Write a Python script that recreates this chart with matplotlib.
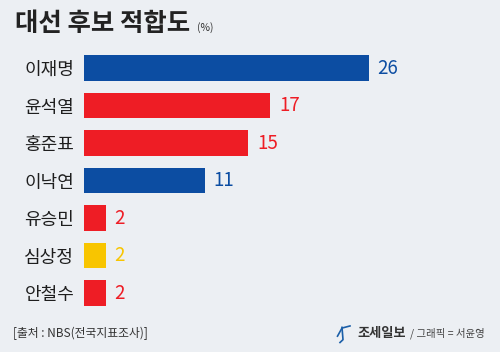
import matplotlib.pyplot as plt
from matplotlib.lines import Line2D

plt.rcParams['font.family'] = ['Noto Sans CJK KR', 'DejaVu Sans']

names = ['이재명', '윤석열', '홍준표', '이낙연', '유승민', '심상정', '안철수']
values = [26, 17, 15, 11, 2, 2, 2]
colors = ['#0c4da2', '#ee1d25', '#ee1d25', '#0c4da2', '#ee1d25', '#f8c500', '#ee1d25']

bg = '#eceff3'
fig = plt.figure(figsize=(5, 3.52), dpi=100)
fig.patch.set_facecolor(bg)

ax = fig.add_axes([0.168, 0.1143, 0.832, 0.7457])
ax.set_facecolor(bg)
ypos = range(len(names))
ax.barh(ypos, values, height=0.69, color=colors)
ax.set_xlim(0, 37.96)
ax.set_ylim(6.5, -0.5)
for s in ax.spines.values():
    s.set_visible(False)
ax.set_xticks([])
ax.set_yticks(list(ypos))
ax.set_yticklabels(names, fontsize=13, color='#1e1e1e', fontweight='medium')
ax.tick_params(axis='y', length=0, pad=7)

for y, v, c in zip(ypos, values, colors):
    ax.text(v + 0.8, y, str(v), va='center', ha='left', fontsize=13.5, color=c)

# title
fig.text(0.03, 0.932, '대선 후보 적합도', fontsize=18.3, fontweight='bold', color='#222222', va='center')
fig.text(0.394, 0.923, '(%)', fontsize=7.5, color='#333333', va='center')

# footer
fig.text(0.026, 0.053, '[출처 : NBS(전국지표조사)]', fontsize=8.5, color='#333333', va='center')
# simple logo mark
fig.add_artist(Line2D([0.675, 0.684, 0.700], [0.045, 0.068, 0.074], color='#1b5fa8', lw=1.2))
fig.add_artist(Line2D([0.684, 0.686, 0.680], [0.070, 0.035, 0.027], color='#1b5fa8', lw=1.2))
fig.text(0.714, 0.053, '조세일보', fontsize=9.5, fontweight='bold', color='#333333', va='center')
fig.text(0.82, 0.053, '/ 그래픽 = 서윤영', fontsize=7.5, color='#444444', va='center')

fig.savefig('out.png', facecolor=bg)
